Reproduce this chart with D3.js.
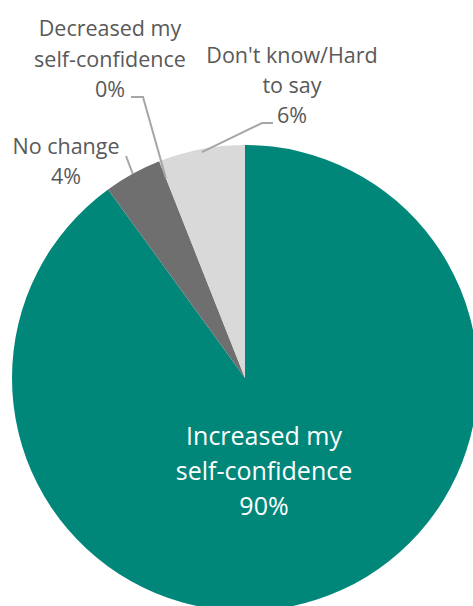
<!DOCTYPE html>
<html>
<head>
<meta charset="utf-8">
<script src="https://cdn.jsdelivr.net/npm/d3@7"></script>
<style>
html,body{margin:0;padding:0;background:#fff;}
svg{display:block;}
</style>
</head>
<body>
<svg id="chart" width="473" height="606"></svg>
<script>
const categories = ["Increased my self-confidence", "No change", "Decreased my self-confidence", "Don't know/Hard to say"];
const values = [90, 4, 0, 6];
const labelLines = [
  ["Increased my", "self-confidence", "90%"],
  ["No change", "4%"],
  ["Decreased my", "self-confidence", "0%"],
  ["Don't know/Hard", "to say", "6%"]
];
const colors = ["#00877A", "#6F6F6F", "#8A8A8A", "#D9D9D9"];

const svg = d3.select("#chart");
const cx = 245, cy = 378, r = 233;
const g = svg.append("g").attr("transform", `translate(${cx},${cy})`);

const data = categories.map((c, i) => ({cat: c, value: values[i], lines: labelLines[i], color: colors[i]}));
const pie = d3.pie().value(d => d.value).sort(null).startAngle(0).endAngle(2 * Math.PI);
const arcs = pie(data);
const arc = d3.arc().innerRadius(0).outerRadius(r);

g.selectAll("path.slice").data(arcs).enter().append("path")
  .attr("class", "slice")
  .attr("d", arc)
  .attr("fill", d => d.data.color)
  .attr("stroke", "none");

const font = "Open Sans, sans-serif";

const labelPos = [
  {x: 264, y: 445, dy: 35, size: 25, color: "#ffffff"},
  {x: 66, y: 154, dy: 30, size: 21.5, color: "#595959"},
  {x: 110, y: 36, dy: 30.5, size: 21.5, color: "#595959"},
  {x: 292, y: 63, dy: 30, size: 21.5, color: "#595959"}
];

arcs.forEach((a, i) => {
  const p = labelPos[i];
  const t = svg.append("text")
    .attr("text-anchor", "middle")
    .attr("font-family", font)
    .attr("font-size", p.size)
    .attr("fill", p.color);
  a.data.lines.forEach((ln, j) => {
    t.append("tspan").attr("x", p.x).attr("y", p.y + j * p.dy).text(ln);
  });
});

function edgePoint(angle, rr) {
  return [cx + rr * Math.sin(angle), cy - rr * Math.cos(angle)];
}
const leaderColor = "#A6A6A6";
{
  const a = arcs[1];
  const mid = (a.startAngle + a.endAngle) / 2;
  const e = edgePoint(mid, r);
  svg.append("polyline").attr("points", [[126, 156], e].map(p => p.join(",")).join(" "))
    .attr("fill", "none").attr("stroke", leaderColor).attr("stroke-width", 2);
}
{
  const a = arcs[2];
  const e = edgePoint(a.startAngle, r - 18);
  svg.append("polyline").attr("points", [[131, 97], [143, 97], e].map(p => p.join(",")).join(" "))
    .attr("fill", "none").attr("stroke", leaderColor).attr("stroke-width", 2);
}
{
  const a = arcs[3];
  const mid = (a.startAngle + a.endAngle) / 2;
  const e = edgePoint(mid, r - 3);
  svg.append("polyline").attr("points", [[273, 123], [262, 123], e].map(p => p.join(",")).join(" "))
    .attr("fill", "none").attr("stroke", leaderColor).attr("stroke-width", 2);
}
</script>
</body>
</html>
